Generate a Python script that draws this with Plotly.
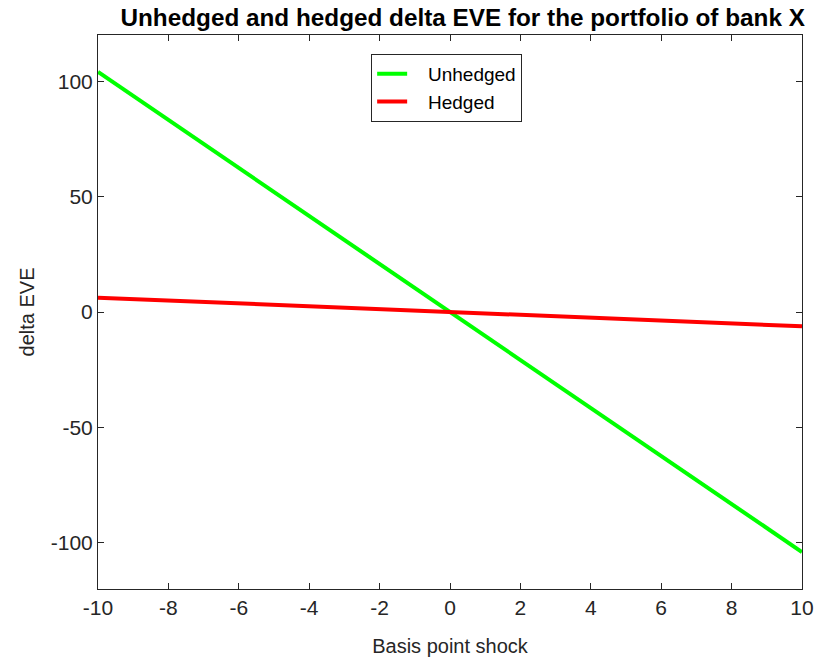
import plotly.graph_objects as go

shock = [-10, -5, 0, 5, 10]
unhedged = [104.0, 52.0, 0.0, -52.0, -104.0]
hedged = [6.2, 3.1, 0.0, -3.1, -6.2]
x_ticks = [-10, -8, -6, -4, -2, 0, 2, 4, 6, 8, 10]
x_labels = ["-10", "-8", "-6", "-4", "-2", "0", "2", "4", "6", "8", "10"]
y_ticks = [-100, -50, 0, 50, 100]
y_labels = ["-100", "-50", "0", "50", "100"]
series_names = ["Unhedged", "Hedged"]

pad = "\u00a0\u00a0\u00a0"

fig = go.Figure()
fig.add_trace(go.Scatter(x=shock, y=unhedged, mode="lines", name=pad + series_names[0],
                         line=dict(color="#00ff00", width=4)))
fig.add_trace(go.Scatter(x=shock, y=hedged, mode="lines", name=pad + series_names[1],
                         line=dict(color="#ff0000", width=4)))

axis_common = dict(showline=True, linecolor="#262626", linewidth=1, mirror="ticks",
                   ticks="inside", ticklen=6, tickcolor="#262626", showgrid=False,
                   zeroline=False, automargin=False,
                   tickfont=dict(size=21, color="#262626"))

fig.update_layout(
    width=816, height=663,
    margin=dict(l=98, r=14, t=35, b=74),
    paper_bgcolor="white", plot_bgcolor="white",
    font=dict(family="Liberation Sans, Arial, sans-serif", color="#262626"),
    title=dict(text="<b>Unhedged and hedged delta EVE for the portfolio of bank X</b>",
               x=0.567, xanchor="center", y=0.974, yanchor="middle",
               automargin=False,
               font=dict(size=24.3, color="black")),
    xaxis=dict(range=[-10, 10], tickvals=x_ticks, ticktext=x_labels,
               title=dict(text="Basis point shock", font=dict(size=20), standoff=20),
               **axis_common),
    yaxis=dict(range=[-120, 120], tickvals=y_ticks, ticktext=y_labels,
               title=dict(text="delta EVE", font=dict(size=20), standoff=10),
               **axis_common),
    legend=dict(x=0.388, y=0.966, xanchor="left", yanchor="top",
                bgcolor="white", bordercolor="#262626", borderwidth=1,
                font=dict(size=19, color="black"), tracegroupgap=0),
    showlegend=True,
)

fig.write_html("out.html", config={"displayModeBar": False},
               post_script="document.body.style.margin='0';document.body.style.overflow='hidden';")
